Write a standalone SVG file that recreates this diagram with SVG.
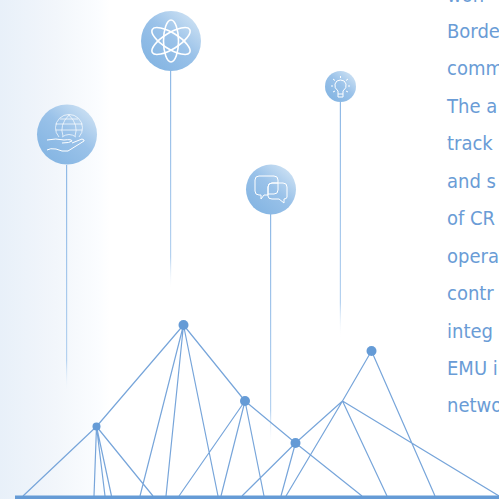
<svg xmlns="http://www.w3.org/2000/svg" width="499" height="499" viewBox="0 0 499 499">
<style>
.t{font-family:"DejaVu Sans Condensed","DejaVu Sans",sans-serif;font-stretch:condensed;font-size:20px;fill:#6a9cd6}
.c{fill:#659bd6}
.l{stroke:#77a5da;stroke-width:1.200;fill:none}
.i{fill:none;stroke:#fff;stroke-width:1}
.f{stroke-opacity:.7}
.a{fill:none;stroke:#fff;stroke-width:1.600}
</style>
<defs>
<linearGradient id="bg"><stop offset="0" stop-color="#e8f0f9"/><stop offset="0.5" stop-color="#f2f6fb"/><stop offset="0.9" stop-color="#fbfdff"/><stop offset="1" stop-color="#fff"/></linearGradient>
<linearGradient id="disc" x1="0.15" y1="0.85" x2="0.8" y2="0.1"><stop offset="0" stop-color="#86b6e3"/><stop offset="0.55" stop-color="#9ac2e9"/><stop offset="1" stop-color="#c6ddf2"/></linearGradient>
<linearGradient id="p1" gradientUnits="userSpaceOnUse" x1="0" y1="165" x2="0" y2="395"><stop offset="0" stop-color="#8fb9e6"/><stop offset="0.85" stop-color="#b5d2f0"/><stop offset="1" stop-color="#fff" stop-opacity="0"/></linearGradient>
<linearGradient id="p2" gradientUnits="userSpaceOnUse" x1="0" y1="70" x2="0" y2="290"><stop offset="0" stop-color="#8fb9e6"/><stop offset="0.85" stop-color="#b5d2f0"/><stop offset="1" stop-color="#fff" stop-opacity="0"/></linearGradient>
<linearGradient id="p3" gradientUnits="userSpaceOnUse" x1="0" y1="214" x2="0" y2="445"><stop offset="0" stop-color="#8fb9e6"/><stop offset="0.85" stop-color="#b5d2f0"/><stop offset="1" stop-color="#fff" stop-opacity="0"/></linearGradient>
<linearGradient id="p4" gradientUnits="userSpaceOnUse" x1="0" y1="102" x2="0" y2="338"><stop offset="0" stop-color="#8fb9e6"/><stop offset="0.85" stop-color="#b5d2f0"/><stop offset="1" stop-color="#fff" stop-opacity="0"/></linearGradient>
</defs>
<rect width="499" height="499" fill="#fff"/>
<rect width="110" height="499" fill="url(#bg)"/>
<g id="text" class="t">
<text x="447" y="2">won</text>
<text x="447" y="37.500">Borde</text>
<text x="447" y="75">comm</text>
<text x="447" y="112.500">The a</text>
<text x="447" y="150">track</text>
<text x="447" y="187.500">and s</text>
<text x="447" y="225">of CR</text>
<text x="447" y="262.500">opera</text>
<text x="447" y="300">contr</text>
<text x="447" y="337.500">integ</text>
<text x="447" y="375">EMU i</text>
<text x="447" y="412">netwo</text>
</g>
<g id="connectors">
<rect x="66" y="165" width="1.200" height="230" fill="url(#p1)"/>
<rect x="170" y="70" width="1.200" height="220" fill="url(#p2)"/>
<rect x="270" y="214" width="1.200" height="231" fill="url(#p3)"/>
<rect x="339.800" y="102" width="1.200" height="236" fill="url(#p4)"/>
<path class="l" d="M96.500 426.500L23 496M96.500 426.500L183.500 325M96.500 426.500L94 496M96.500 426.500L105 496M96.500 426.500L111.500 496M96.500 426.500L153 496M183.500 325L140 496M183.500 325L166 496M183.500 325L218 496M183.500 325L245 401M245 401L179 496M245 401L221 496M245 401L264 496M245 401L295.500 443M295.500 443L242 496M295.500 443L281 496M295.500 443L362 496M295.500 443L342.500 401M342.500 401L286 496M342.500 401L387 496M342.500 401L499 496M342.500 401L371.500 351M371.500 351L435 496"/>
</g>
<rect id="ground" x="15" y="495.500" width="484" height="3.500" fill="#659bd6"/>
<g id="hub-1"><circle class="c" cx="183.500" cy="325" r="5"/></g>
<g id="hub-2"><circle class="c" cx="96.500" cy="426.500" r="4"/></g>
<g id="hub-3"><circle class="c" cx="245" cy="401" r="5"/></g>
<g id="hub-4"><circle class="c" cx="295.500" cy="443" r="5"/></g>
<g id="hub-5"><circle class="c" cx="371.500" cy="351" r="5"/></g>
<g id="globe">
<circle cx="67" cy="134.500" r="30" fill="url(#disc)"/>
<path class="i f" d="M59 137A13.500 13.500 0 1 1 79 137"/>
<path class="i f" d="M63 136Q59 125 69 115Q79 125 75 136M55.500 124H82.500M55.500 130H82.500M60 119H78M62 137Q69 132 76 137"/>
<path class="i" d="M47 140Q56 138 64 140Q72 139 72 141Q70 143 62 143M72 143L82 139Q85 140 84 141L68 151Q62 152 56 149Q50 148 47 150"/>
</g>
<g id="atom">
<circle cx="171" cy="41" r="30" fill="url(#disc)"/>
<ellipse class="a" cx="171" cy="41" rx="7.500" ry="21"/>
<ellipse class="a" cx="171" cy="41" rx="8" ry="22" transform="rotate(58 171 41)"/>
<ellipse class="a" cx="171" cy="41" rx="8" ry="22" transform="rotate(-58 171 41)"/>
</g>
<g id="chat">
<circle cx="271" cy="189.500" r="25" fill="url(#disc)"/>
<path class="i" d="M259 176H274Q278 176 278 180V183H272Q268 183 268 187V195H264L261 199V195H259Q255 195 255 191V180Q255 176 259 176Z"/>
<path class="i" d="M272 183H283Q287 183 287 187V197Q287 199 284 199V203L279 199H272Q268 199 268 196V187Q268 183 272 183ZM278 183V190Q278 194 274 194H268"/>
</g>
<g id="bulb">
<circle cx="340.500" cy="86.500" r="15.500" fill="url(#disc)"/>
<path class="i" d="M338 94V91Q334 88 335 84Q336 80 340.500 80Q345 80 346 84Q347 88 343 91V94ZM338 94V97H343V94"/>
<path class="i" stroke-width="0.800" d="M340.500 76V78M333 79L335 80.500M348 79L346 80.500M331 86H333M348 86H350M333 92L335 91M348 92L346 91"/>
</g>
</svg>
